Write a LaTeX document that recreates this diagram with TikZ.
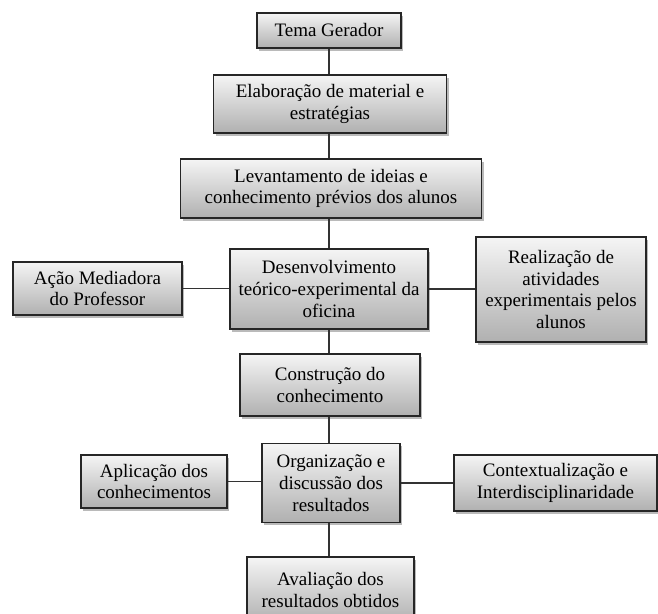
\documentclass[tikz,border=0pt]{standalone}
\usepackage{fontspec}
\setmainfont{Liberation Serif}
\usetikzlibrary{shadows}
\begin{document}
\begin{tikzpicture}[x=1pt,y=1pt,
  caixa/.style={draw=black!85, line width=1.3pt, top color=gray!8, bottom color=gray!62,
    drop shadow={shadow xshift=2pt, shadow yshift=-2.5pt, fill=black!60, opacity=.45},
    align=center, inner sep=2pt, font=\fontsize{19}{21.7}\selectfont},
  liga/.style={draw=black!80, line width=1.2pt}]
  \useasboundingbox (0,0) rectangle (658,-613);
%  coluna central
  \node[caixa, minimum width=144pt, minimum height=35pt] (tema) at (329,-30.5) {Tema Gerador};
  \node[caixa, minimum width=233pt, minimum height=58pt] (elab) at (330,-104) {Elaboração de material e\\estratégias};
  \node[caixa, minimum width=301pt, minimum height=59pt] (levant) at (331,-188.5) {Levantamento de ideias e\\conhecimento prévios dos alunos};
  \node[caixa, minimum width=198pt, minimum height=80pt] (desenv) at (329,-289) {Desenvolvimento\\teórico-experimental da\\oficina};
  \node[caixa, minimum width=180pt, minimum height=62pt] (constr) at (330,-385) {Construção do\\conhecimento};
  \node[caixa, minimum width=138pt, minimum height=79pt] (organ) at (331,-483) {Organização e\\discussão dos\\resultados};
  \node[caixa, minimum width=167pt, minimum height=66pt] (avalia) at (330.5,-590) {Avaliação dos\\resultados obtidos};
%  laterais
  \node[caixa, minimum width=169pt, minimum height=53pt] (acao) at (97.5,-288.5) {Ação Mediadora\\do Professor};
  \node[caixa, minimum width=170pt, minimum height=105pt] (realiz) at (561,-289.5) {Realização de\\atividades\\experimentais pelos\\alunos};
  \node[caixa, minimum width=146pt, minimum height=53pt] (aplic) at (154,-481.5) {Aplicação dos\\conhecimentos};
  \node[caixa, minimum width=203pt, minimum height=56pt] (context) at (555.5,-483) {Contextualização e\\Interdisciplinaridade};
%  ligacoes
  \draw[liga] (tema.south) -- (tema.south |- elab.north);
  \draw[liga] (tema.south |- elab.south) -- (tema.south |- levant.north);
  \draw[liga] (tema.south |- levant.south) -- (tema.south |- desenv.north);
  \draw[liga] (tema.south |- desenv.south) -- (tema.south |- constr.north);
  \draw[liga] (tema.south |- constr.south) -- (tema.south |- organ.north);
  \draw[liga] (tema.south |- organ.south) -- (tema.south |- avalia.north);
  \draw[liga] (acao.east) -- (acao.east -| desenv.west);
  \draw[liga] (desenv.east) -- (desenv.east -| realiz.west);
  \draw[liga] (aplic.east) -- (aplic.east -| organ.west);
  \draw[liga] (organ.east) -- (organ.east -| context.west);
\end{tikzpicture}
\end{document}
